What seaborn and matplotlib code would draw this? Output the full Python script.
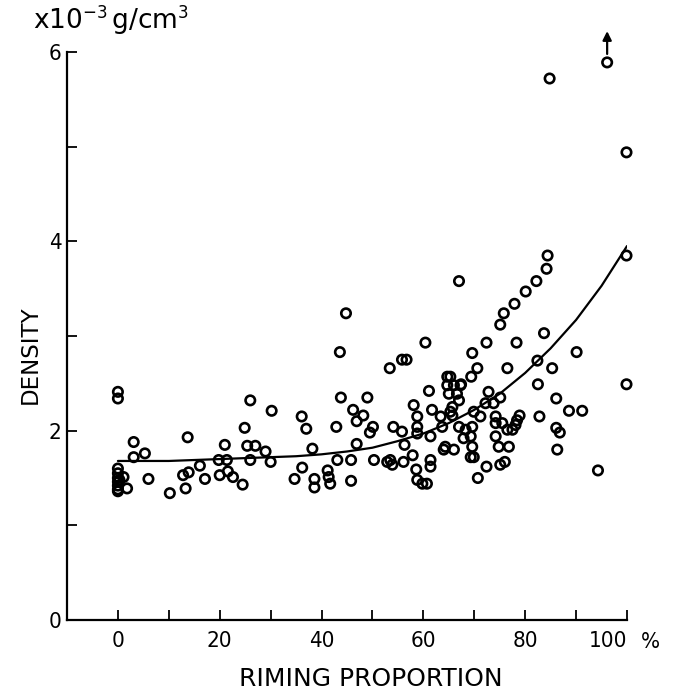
import matplotlib
matplotlib.use("Agg")
import matplotlib.pyplot as plt
import seaborn as sns
import numpy as np
import pandas as pd

# ---- data ----
riming = [0, 0, 0, 0, 0, 0, 0, 0, 0, 1.1, 1.8, 0.3,
          3.1, 3.1, 5.3, 6.0, 10.2, 13.3, 12.8, 13.9, 13.7, 16.1, 17.1, 19.8,
          21.0, 21.4, 20.0, 21.6, 22.6, 24.5, 24.9, 25.4, 26.0, 26.0, 27.0,
          29.0, 30.0, 30.2,
          34.7, 36.1, 36.2, 37.0, 38.2, 38.6, 38.6, 41.2, 41.4, 41.7, 42.9,
          43.1, 43.6, 43.8, 44.8, 45.8, 45.8, 46.2, 46.9, 46.9, 48.2, 49.0,
          49.5, 50.1, 50.3, 52.9, 53.4, 53.5, 53.9, 54.1, 55.8, 56.7, 55.8,
          56.1, 56.3, 57.9, 58.1, 58.6, 58.8, 58.8, 58.8, 58.8, 59.8, 60.4,
          60.7, 61.1, 61.4, 61.4, 61.4, 61.7, 63.4, 63.7, 64.0,
          64.7, 64.7, 65.0, 65.3, 66.0, 67.3, 66.6, 67.4, 67.0, 65.7, 65.3,
          65.7, 64.3, 66.0, 67.0, 68.3, 69.6, 69.9, 71.2, 72.2, 73.8, 74.2,
          67.9, 69.3, 69.6, 69.3, 69.9, 74.2, 75.5, 74.2, 74.8, 76.8, 76.5,
          77.5, 78.1, 72.4, 70.7, 75.1, 76.0, 72.8, 75.1, 78.9, 78.4,
          67.0, 69.6, 70.6, 69.4, 72.4, 75.1, 75.8, 76.5, 77.9, 78.3, 80.1,
          82.2, 82.4, 82.5, 82.8, 83.7, 84.2, 84.4, 84.8, 85.3, 86.1, 86.1,
          86.8, 86.3, 88.6, 90.1, 91.2, 94.3, 96.1, 99.9, 99.9, 99.9]
density = [2.41, 2.34, 1.60, 1.55, 1.50, 1.46, 1.42, 1.38, 1.36, 1.51, 1.39, 1.48,
           1.88, 1.72, 1.76, 1.49, 1.34, 1.39, 1.53, 1.56, 1.93, 1.63, 1.49, 1.69,
           1.85, 1.69, 1.53, 1.57, 1.51, 1.43, 2.03, 1.84, 2.32, 1.69, 1.84,
           1.78, 1.67, 2.21,
           1.49, 2.15, 1.61, 2.02, 1.81, 1.49, 1.40, 1.58, 1.51, 1.44, 2.04,
           1.69, 2.83, 2.35, 3.24, 1.69, 1.47, 2.22, 2.10, 1.86, 2.16, 2.35,
           1.98, 2.04, 1.69, 1.67, 2.66, 1.69, 1.64, 2.04, 2.75, 2.75, 1.99,
           1.67, 1.85, 1.74, 2.27, 1.59, 2.15, 2.04, 1.97, 1.48, 1.44, 2.93,
           1.44, 2.42, 1.69, 1.62, 1.94, 2.22, 2.15, 2.04, 1.80,
           2.57, 2.48, 2.39, 2.57, 2.48, 2.48, 2.39, 2.49, 2.32, 2.25, 2.20,
           2.16, 1.83, 1.80, 2.04, 2.01, 2.04, 2.20, 2.15, 2.29, 2.29, 2.15,
           1.92, 1.94, 1.83, 1.72, 1.72, 2.08, 2.08, 1.94, 1.83, 1.83, 2.01,
           2.01, 2.06, 1.62, 1.50, 1.64, 1.67, 2.41, 2.35, 2.16, 2.11,
           3.58, 2.82, 2.66, 2.57, 2.93, 3.12, 3.24, 2.66, 3.34, 2.93, 3.47,
           3.58, 2.74, 2.49, 2.15, 3.03, 3.71, 3.85, 5.72, 2.66, 2.34, 2.03,
           1.98, 1.80, 2.21, 2.83, 2.21, 1.58, 5.89, 4.94, 3.85, 2.49]

curve_x = [0, 5, 10, 15, 20, 25, 30, 35, 40, 45, 50, 55, 60, 65, 70, 75,
           80, 85, 90, 95, 100]
curve_y = [1.68, 1.68, 1.68, 1.69, 1.70, 1.71, 1.72, 1.73, 1.75, 1.78, 1.82,
           1.89, 1.97, 2.08, 2.22, 2.39, 2.61, 2.87, 3.17, 3.53, 3.95]

x_ticks = [-10, 0, 10, 20, 30, 40, 50, 60, 70, 80, 90, 100]
x_tick_labels = ["", "0", "", "20", "", "40", "", "60", "", "80", "", "100"]
y_ticks = [0, 1, 2, 3, 4, 5, 6]
y_tick_labels = ["0", "", "2", "", "4", "", "6"]

# ---- drawing ----
sns.set_style("ticks")
plt.rcParams["font.family"] = ["DejaVu Sans"]
plt.rcParams["font.stretch"] = "condensed"
plt.rcParams["text.color"] = "black"

fig = plt.figure(figsize=(6.85, 6.93), dpi=100)
ax = fig.add_axes([67 / 685, 73 / 693, (627 - 67) / 685, (620 - 52) / 693])

df = pd.DataFrame({"riming": riming, "density": density})
sns.scatterplot(data=df, x="riming", y="density", ax=ax, s=46,
                marker="o", linewidth=1.9, clip_on=False, zorder=3)
coll = ax.collections[0]
coll.set_facecolor("none")
coll.set_edgecolor("black")

sns.lineplot(x=curve_x, y=curve_y, ax=ax, color="black", lw=1.6,
             estimator=None, sort=False)

ax.set_xlim(-10, 100)
ax.set_ylim(0, 6)
ax.set_xticks(x_ticks)
ax.set_xticklabels(x_tick_labels)
ax.set_yticks(y_ticks)
ax.set_yticklabels(y_tick_labels)
ax.tick_params(direction="in", length=7.5, width=1.3, color="black",
               labelsize=16, labelcolor="black")
ax.tick_params(axis="x", pad=8)
ax.tick_params(axis="y", pad=4)
ax.get_xticklabels()[-1].set_ha("right")
for side in ["top", "right"]:
    ax.spines[side].set_visible(False)
for side in ["left", "bottom"]:
    ax.spines[side].set_linewidth(1.6)
    ax.spines[side].set_color("black")
ax.set_xlabel("")
ax.set_ylabel("")

ax.annotate("", xy=(96.1, 6.25), xytext=(96.1, 5.95),
            arrowprops=dict(arrowstyle="-|>", color="black", lw=1.6,
                            mutation_scale=13),
            annotation_clip=False)

ax.text(104.6, -0.13, "%", ha="center", va="top", color="black",
        fontsize=16, clip_on=False)

fig.text(30 / 685, 1 - 355 / 693, "DENSITY", rotation=90, ha="center",
         va="center", fontsize=16.5, color="black", fontstretch="normal")
fig.text(371 / 685, 1 - 679 / 693, "RIMING PROPORTION", ha="center",
         va="center", fontsize=18, color="black", fontstretch="normal")
fig.text(33 / 685, 1 - 29 / 693, "x10$^{-3}\\,$g/cm$^{3}$", ha="left",
         va="baseline", fontsize=19, color="black", fontstretch="normal")

fig.savefig("out.png", dpi=100)
